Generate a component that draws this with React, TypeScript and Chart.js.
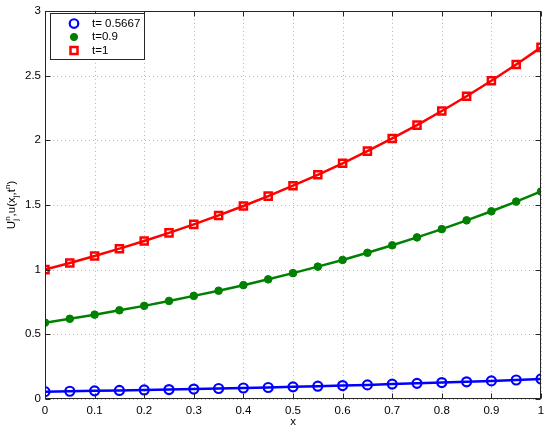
import React, { useEffect, useRef } from "react";
import { Chart, registerables } from "chart.js";
Chart.register(...registerables);

const xValues = [0, 0.05, 0.1, 0.15, 0.2, 0.25, 0.3, 0.35, 0.4, 0.45, 0.5, 0.55, 0.6, 0.65, 0.7, 0.75, 0.8, 0.85, 0.9, 0.95, 1];
const seriesBlue = [0.057, 0.060, 0.063, 0.066, 0.070, 0.073, 0.077, 0.081, 0.085, 0.089, 0.094, 0.099, 0.104, 0.109, 0.115, 0.121, 0.127, 0.133, 0.140, 0.147, 0.155];
const seriesGreen = [0.590, 0.620, 0.652, 0.686, 0.720, 0.758, 0.797, 0.837, 0.880, 0.925, 0.973, 1.023, 1.075, 1.130, 1.188, 1.249, 1.313, 1.381, 1.451, 1.526, 1.604];
const seriesRed = [1.000, 1.051, 1.105, 1.162, 1.221, 1.284, 1.350, 1.419, 1.492, 1.568, 1.649, 1.733, 1.822, 1.916, 2.014, 2.117, 2.226, 2.340, 2.460, 2.586, 2.718];
const seriesLabels = ["t= 0.5667", "t=0.9", "t=1"];
const xTickLabels = ["0", "0.1", "0.2", "0.3", "0.4", "0.5", "0.6", "0.7", "0.8", "0.9", "1"];
const yTickLabels = ["0", "0.5", "1", "1.5", "2", "2.5", "3"];

const FONT = "'Liberation Sans', Arial, sans-serif";

const framePlugin = {
  id: "matlabFrame",
  beforeDatasetsDraw(chart: any) {
    const { ctx, chartArea: a, scales } = chart;
    ctx.save();
    ctx.strokeStyle = "#b8b8b8";
    ctx.lineWidth = 1;
    ctx.setLineDash([1, 3]);
    scales.x.ticks.forEach((t: any) => {
      const x = Math.round(scales.x.getPixelForValue(t.value)) + 0.5;
      ctx.beginPath(); ctx.moveTo(x, a.top); ctx.lineTo(x, a.bottom); ctx.stroke();
    });
    scales.y.ticks.forEach((t: any) => {
      const y = Math.round(scales.y.getPixelForValue(t.value)) + 0.5;
      ctx.beginPath(); ctx.moveTo(a.left, y); ctx.lineTo(a.right, y); ctx.stroke();
    });
    ctx.restore();
  },
  afterDraw(chart: any) {
    const { ctx, chartArea: a, scales } = chart;
    ctx.save();
    ctx.setLineDash([]);
    ctx.strokeStyle = "#262626";
    ctx.lineWidth = 1;
    const L = Math.round(a.left) + 0.5, R = Math.round(a.right) - 0.5;
    const T = Math.round(a.top) + 0.5, B = Math.round(a.bottom) - 0.5;
    ctx.strokeRect(L, T, R - L, B - T);
    const tl = 5;
    scales.x.ticks.forEach((t: any) => {
      const x = Math.round(scales.x.getPixelForValue(t.value)) + 0.5;
      ctx.beginPath(); ctx.moveTo(x, B); ctx.lineTo(x, B - tl); ctx.stroke();
      ctx.beginPath(); ctx.moveTo(x, T); ctx.lineTo(x, T + tl); ctx.stroke();
    });
    scales.y.ticks.forEach((t: any) => {
      const y = Math.round(scales.y.getPixelForValue(t.value)) + 0.5;
      ctx.beginPath(); ctx.moveTo(L, y); ctx.lineTo(L + tl, y); ctx.stroke();
      ctx.beginPath(); ctx.moveTo(R, y); ctx.lineTo(R - tl, y); ctx.stroke();
    });

    // legend
    const lx = 50.5, ly = 13.5, lw = 94, lh = 46;
    ctx.fillStyle = "#ffffff";
    ctx.fillRect(lx, ly, lw, lh);
    ctx.strokeStyle = "#262626";
    ctx.strokeRect(lx, ly, lw, lh);
    const rows = [23.5, 37, 50.5];
    chart.data.datasets.forEach((ds: any, i: number) => {
      const cy = rows[i];
      const cx = 74;
      ctx.lineWidth = ds.pointBorderWidth;
      ctx.strokeStyle = ds.pointBorderColor;
      ctx.fillStyle = ds.pointBackgroundColor;
      if (ds.pointStyle === "rect") {
        const r = ds.pointRadius * 0.7;
        ctx.fillRect(cx - r, cy - r, 2 * r, 2 * r);
        ctx.strokeRect(cx - r, cy - r, 2 * r, 2 * r);
      } else {
        ctx.beginPath(); ctx.arc(cx, cy, ds.pointRadius * 0.95, 0, Math.PI * 2);
        ctx.fill(); ctx.stroke();
      }
      ctx.fillStyle = "#000";
      ctx.font = `11.5px ${FONT}`;
      ctx.textBaseline = "middle";
      ctx.textAlign = "left";
      ctx.fillText(ds.label, 92, cy);
    });

    // y axis label with sub/superscripts, rotated
    ctx.save();
    ctx.translate(11, (a.top + a.bottom) / 2);
    ctx.rotate(-Math.PI / 2);
    ctx.fillStyle = "#000";
    ctx.textBaseline = "alphabetic";
    ctx.textAlign = "left";
    const parts: [string, number][] = [
      ["U", 0], ["j", 1], ["n", -1], [",u(x", 0], ["j", 1], [",t", 0], ["n", -1], [")", 0],
    ];
    const widths = parts.map(([s, k]) => { ctx.font = `${k ? 8 : 11.5}px ${FONT}`; return ctx.measureText(s).width; });
    let total = 0;
    const xs: number[] = [];
    let i = 0;
    while (i < parts.length) {
      if (parts[i][1] === 1 && parts[i + 1] && parts[i + 1][1] === -1) {
        xs[i] = total; xs[i + 1] = total; total += Math.max(widths[i], widths[i + 1]); i += 2;
      } else { xs[i] = total; total += widths[i]; i += 1; }
    }
    parts.forEach(([s, k], j) => {
      ctx.font = `${k ? 8 : 11.5}px ${FONT}`;
      const dy = k === 1 ? 3 : k === -1 ? -5 : 0;
      ctx.fillText(s, xs[j] - total / 2, 4 + dy);
    });
    ctx.restore();

    ctx.fillStyle = "#000";
    ctx.font = `11.5px ${FONT}`;
    ctx.textAlign = "center";
    ctx.textBaseline = "middle";
    ctx.fillText("x", (a.left + a.right) / 2, 422);
    ctx.restore();
  },
};

export default function App() {
  const ref = useRef<HTMLCanvasElement>(null);
  useEffect(() => {
    const chart = new Chart(ref.current as HTMLCanvasElement, {
      type: "line",
      data: {
        datasets: [
          {
            label: seriesLabels[0],
            data: xValues.map((x, i) => ({ x, y: seriesBlue[i] })),
            borderColor: "#0000ff",
            borderWidth: 2.5,
            pointStyle: "circle",
            pointRadius: 4.5,
            pointBorderWidth: 2.2,
            pointBorderColor: "#0000ff",
            pointBackgroundColor: "rgba(255,255,255,0)",
          },
          {
            label: seriesLabels[1],
            data: xValues.map((x, i) => ({ x, y: seriesGreen[i] })),
            borderColor: "#008000",
            borderWidth: 2.5,
            pointStyle: "circle",
            pointRadius: 3.8,
            pointBorderWidth: 1,
            pointBorderColor: "#008000",
            pointBackgroundColor: "#008000",
          },
          {
            label: seriesLabels[2],
            data: xValues.map((x, i) => ({ x, y: seriesRed[i] })),
            borderColor: "#ff0000",
            borderWidth: 2.5,
            pointStyle: "rect",
            pointRadius: 5,
            pointBorderWidth: 2.5,
            pointBorderColor: "#ff0000",
            pointBackgroundColor: "rgba(255,255,255,0)",
          },
        ] as any,
      },
      options: {
        animation: false,
        responsive: false,
        maintainAspectRatio: false,
        layout: { padding: { top: 10, right: 9, left: 0, bottom: 0 } },
        plugins: { legend: { display: false }, tooltip: { enabled: false } },
        scales: {
          x: {
            type: "linear",
            min: 0,
            max: 1,
            afterBuildTicks: (s: any) => { s.ticks = xTickLabels.map((l) => ({ value: parseFloat(l) })); },
            ticks: {
              autoSkip: false,
              maxRotation: 0,
              padding: 5,
              color: "#000",
              font: { family: FONT, size: 11.5 },
              callback: (v: any) => xTickLabels.find((l) => parseFloat(l) === v) ?? "",
            },
            grid: { display: false, drawTicks: false },
            border: { display: false },
            afterFit: (s: any) => { s.height = 31; },
          },
          y: {
            type: "linear",
            min: 0,
            max: 3,
            afterBuildTicks: (s: any) => { s.ticks = yTickLabels.map((l) => ({ value: parseFloat(l) })); },
            ticks: {
              autoSkip: false,
              padding: 4,
              color: "#000",
              font: { family: FONT, size: 11.5 },
              callback: (v: any) => yTickLabels.find((l) => parseFloat(l) === v) ?? "",
            },
            grid: { display: false, drawTicks: false },
            border: { display: false },
            afterFit: (s: any) => { s.width = 45; },
          },
        },
      } as any,
      plugins: [framePlugin],
    });
    return () => chart.destroy();
  }, []);
  return (
    <div style={{ position: "fixed", left: 0, top: 0, width: 550, height: 430, background: "#fff" }}>
      <canvas ref={ref} width={550} height={430} style={{ width: 550, height: 430 }} />
    </div>
  );
}
